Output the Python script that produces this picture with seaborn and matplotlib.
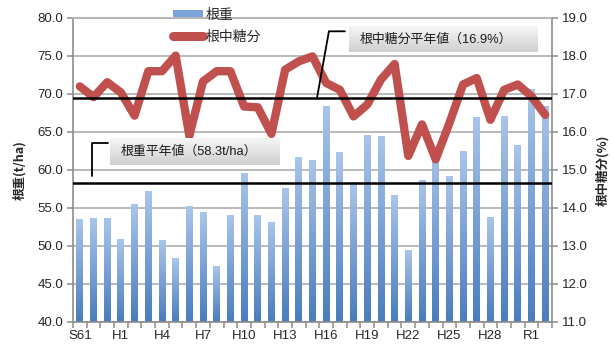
import numpy as np
import pandas as pd
import matplotlib
matplotlib.use("Agg")
import matplotlib.pyplot as plt
import seaborn as sns
from matplotlib.patches import Patch
from matplotlib.lines import Line2D
from matplotlib.colors import LinearSegmentedColormap

# ---- data -------------------------------------------------------------
years = ["S61", "S62", "S63", "H1", "H2", "H3", "H4", "H5", "H6", "H7",
         "H8", "H9", "H10", "H11", "H12", "H13", "H14", "H15", "H16", "H17",
         "H18", "H19", "H20", "H21", "H22", "H23", "H24", "H25", "H26", "H27",
         "H28", "H29", "H30", "R1", "R2"]
tick_years = ["S61", "H1", "H4", "H7", "H10", "H13", "H16", "H19", "H22",
              "H25", "H28", "R1"]
root_weight = [53.5, 53.6, 53.6, 50.9, 55.5, 57.2, 50.7, 48.3, 55.2, 54.4,
               47.3, 54.0, 59.5, 54.0, 53.1, 57.6, 61.6, 61.3, 68.4, 62.3,
               58.3, 64.6, 64.4, 56.6, 49.4, 58.6, 63.1, 59.1, 62.4, 66.9,
               53.7, 67.1, 63.2, 70.6, 68.3]
sugar = [17.20, 16.92, 17.31, 17.04, 16.43, 17.60, 17.60, 18.01, 15.90, 17.33,
         17.60, 17.60, 16.67, 16.65, 15.95, 17.64, 17.86, 17.99, 17.29, 17.11,
         16.41, 16.72, 17.38, 17.79, 15.37, 16.20, 15.28, 16.23, 17.25, 17.42,
         16.32, 17.11, 17.25, 16.94, 16.45]
root_weight_avg = 58.3
sugar_avg = 16.9

weight_label = "根重"
sugar_label = "根中糖分"
weight_note = f"根重平年値（{root_weight_avg}t/ha）"
sugar_note = f"根中糖分平年値（{sugar_avg}%）"

# ---- style ------------------------------------------------------------
sns.set_theme(style="white")
plt.rcParams["font.family"] = ["Liberation Sans", "Noto Sans CJK JP"]
JP = ["Noto Sans CJK JP", "Liberation Sans"]
MIXED = ["Liberation Sans", "Noto Sans CJK JP"]
GRID = "#b4b4b4"
SPINE = "#8c8c8c"
RED = "#c0504d"

W, H = 613, 347
fig = plt.figure(figsize=(W / 100, H / 100), dpi=100)
fig.patch.set_facecolor("white")
pos = [73 / W, 1 - 322 / H, (552 - 73) / W, (322 - 18) / H]
ax = fig.add_axes(pos)

df = pd.DataFrame({"year": years, "weight": root_weight, "sugar": sugar})
n = len(df)

# left-axis value that sits at the same height as a right-axis value
W_LIM, S_LIM = (40, 80), (11, 19)


def sugar_to_weight(v):
    return W_LIM[0] + (v - S_LIM[0]) * (W_LIM[1] - W_LIM[0]) / (S_LIM[1] - S_LIM[0])


# ---- bars with vertical gradient -------------------------------------
sns.barplot(data=df, x="year", y="weight", ax=ax, width=0.5,
            color="#6f9bd3", saturation=1, zorder=2)
bar_cmap = LinearSegmentedColormap.from_list("bar", ["#4a7cbe", "#a9c5ea"])
grad = np.linspace(1, 0, 256).reshape(-1, 1)
for p in list(ax.patches):
    x0, w, h = p.get_x(), p.get_width(), p.get_height()
    p.set_facecolor("none")
    p.set_edgecolor("none")
    ax.imshow(grad, extent=[x0, x0 + w, W_LIM[0], h], aspect="auto",
              cmap=bar_cmap, vmin=0, vmax=1, origin="upper", zorder=2,
              interpolation="bilinear")

ax.set_xlim(-0.5, n - 0.5)
ax.set_ylim(*W_LIM)
ax.set_yticks(np.arange(40, 80.1, 5))
ax.set_yticklabels([f"{v:.1f}" for v in np.arange(40, 80.1, 5)])
ax.set_xticks([years.index(t) for t in tick_years])
ax.set_xticklabels(tick_years)
ax.set_xticks(np.arange(-0.5, n, 1), minor=True)
ax.tick_params(axis="x", which="major", length=0, pad=6, labelsize=9.5)
ax.tick_params(axis="x", which="minor", length=4, width=1.1, color=SPINE,
               direction="out", bottom=True)
ax.tick_params(axis="y", length=4, width=1.1, color=SPINE, direction="out",
               left=True, labelsize=9.5, pad=3)
ax.yaxis.grid(True, color=GRID, lw=1.3)
ax.set_axisbelow(True)
ax.set_xlabel("")
ax.set_ylabel("根重(t/ha)", family=JP, fontweight="bold", fontsize=9,
              labelpad=8)
for s in ["left", "bottom", "right"]:
    ax.spines[s].set_color(SPINE)
    ax.spines[s].set_linewidth(1.2)
ax.spines["top"].set_color(GRID)
ax.spines["top"].set_linewidth(1.3)
ax.axhline(root_weight_avg, color="black", lw=1.8, zorder=4)

# ---- sugar content line ------------------------------------------------
ax2 = ax.twinx()
sns.lineplot(x=np.arange(n), y=df["sugar"], ax=ax2, color=RED, lw=6,
             solid_capstyle="round", solid_joinstyle="round", zorder=3)
ax2.axhline(sugar_avg, color="black", lw=1.8, zorder=4)
ax2.set_ylim(*S_LIM)
ax2.set_yticks(np.arange(11, 19.1, 1))
ax2.set_yticklabels([f"{v:.1f}" for v in np.arange(11, 19.1, 1)])
ax2.tick_params(axis="y", length=4, width=1.1, color=SPINE, direction="out",
                right=True, labelsize=9.5, pad=3)
ax2.grid(False)
ax2.set_ylabel("根中糖分(%)", family=JP, fontweight="bold", fontsize=9,
               labelpad=6)
for s in ax2.spines.values():
    s.set_visible(False)
ax2.set_xlim(-0.5, n - 0.5)

# ---- average-value callouts -------------------------------------------
ov = fig.add_axes(pos, zorder=5)
ov.axis("off")
ov.patch.set_alpha(0)
box_cmap = LinearSegmentedColormap.from_list("box", ["#cfcfcf", "#f6f6f6"])


def callout(x0, x1, y0, y1, text, size):
    ov.imshow(grad, extent=[x0, x1, y0, y1], aspect="auto", cmap=box_cmap,
              vmin=0, vmax=1, origin="upper", zorder=5,
              interpolation="bilinear")
    ov.text(x0 + 0.75, (y0 + y1) / 2, text, family=MIXED, fontsize=size,
            ha="left", va="center", color="#1a1a1a", zorder=6)


callout(2.21, 14.63, 60.62, 64.17, weight_note, 9.3)
ov.plot([0.89, 0.89, 2.06], [root_weight_avg + 0.9, 63.5, 63.5],
        color="black", lw=1.3, zorder=6)
callout(19.66, 33.47, 75.5, 78.9, sugar_note, 9.3)
ov.plot([17.33, 18.2, 19.37], [sugar_to_weight(sugar_avg), 78.25, 78.25],
        color="black", lw=1.3, zorder=6)
ov.set_xlim(-0.5, n - 0.5)
ov.set_ylim(*W_LIM)

# ---- legend -------------------------------------------------------------
handles = [Patch(facecolor="#7aa3d9", edgecolor="none"),
           Line2D([], [], color=RED, lw=6.5, solid_capstyle="round")]
leg = fig.legend(handles, [weight_label, sugar_label], loc="upper left",
                 bbox_to_anchor=(163 / W, 1 + 2 / H), frameon=False,
                 prop={"family": JP, "size": 10}, handlelength=2.2,
                 handleheight=0.35, handletextpad=0.2, labelspacing=0.55,
                 borderpad=0.2)

fig.savefig("out.png", dpi=100)
